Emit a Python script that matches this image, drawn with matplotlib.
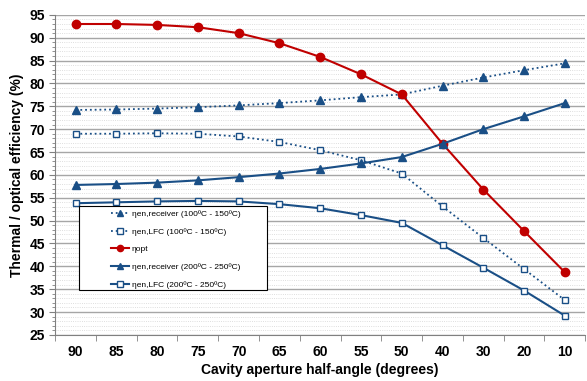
import matplotlib.pyplot as plt
import numpy as np
from matplotlib.ticker import MultipleLocator, FixedLocator
from matplotlib.patches import Rectangle

plt.rcParams['font.family'] = ['Liberation Sans', 'DejaVu Sans']

# cavity aperture half-angle categories
angles = ['90', '85', '80', '75', '70', '65', '60', '55', '50', '40', '30', '20', '10']

# efficiencies (%)
eta_opt = [93.0, 93.0, 92.8, 92.3, 91.0, 88.8, 85.8, 82.0, 77.6, 66.8, 56.8, 47.7, 38.7]
eta_rec_low = [74.2, 74.3, 74.5, 74.8, 75.2, 75.7, 76.3, 77.0, 77.6, 79.5, 81.3, 82.9, 84.4]
eta_lfc_low = [69.0, 69.0, 69.1, 69.0, 68.4, 67.2, 65.4, 63.2, 60.3, 53.1, 46.2, 39.4, 32.6]
eta_rec_high = [57.8, 58.0, 58.3, 58.8, 59.5, 60.3, 61.3, 62.5, 63.9, 66.8, 70.0, 72.8, 75.7]
eta_lfc_high = [53.8, 54.0, 54.2, 54.3, 54.2, 53.6, 52.7, 51.2, 49.5, 44.6, 39.7, 34.7, 29.2]

blue = '#1a4f86'
red = '#c00000'

fig = plt.figure(figsize=(5.87, 3.81), dpi=100)
ax = fig.add_axes([0.094, 0.121, 0.903, 0.840])

x = np.arange(len(angles))

ax.plot(x, eta_rec_low, color=blue, ls=':', lw=1.3, marker='^', ms=6,
        label='ηen,receiver (100ºC - 150ºC)')
ax.plot(x, eta_lfc_low, color=blue, ls=':', lw=1.3, marker='s', ms=5,
        mfc='white', mec=blue, mew=1.0, label='ηen,LFC (100ºC - 150ºC)')
ax.plot(x, eta_opt, color=red, ls='-', lw=1.5, marker='o', ms=6,
        label='ηopt')
ax.plot(x, eta_rec_high, color=blue, ls='-', lw=1.5, marker='^', ms=6,
        label='ηen,receiver (200ºC - 250ºC)')
ax.plot(x, eta_lfc_high, color=blue, ls='-', lw=1.5, marker='s', ms=5,
        mfc='white', mec=blue, mew=1.0, label='ηen,LFC (200ºC - 250ºC)')

ax.set_xlim(-0.5, len(angles) - 0.5)
ax.set_ylim(25, 95)
ax.set_xticks(x)
ax.set_xticklabels(angles)
ax.xaxis.set_minor_locator(FixedLocator(np.arange(-0.5, len(angles), 1.0)))
ax.tick_params(axis='x', which='major', length=0, pad=7, labelsize=10)
ax.tick_params(axis='x', which='minor', length=4, color='#808080')
ax.yaxis.set_major_locator(MultipleLocator(5))
ax.yaxis.set_minor_locator(MultipleLocator(1))
ax.tick_params(axis='y', which='major', length=4, color='#808080', labelsize=10)
ax.tick_params(axis='y', which='minor', length=2, color='#808080')
for lab in ax.get_xticklabels() + ax.get_yticklabels():
    lab.set_fontweight('bold')

ax.grid(axis='y', which='major', color='#a6a6a6', lw=1.0)
ax.grid(axis='y', which='minor', color='#d4d4d4', lw=0.6, ls=':')
ax.set_axisbelow(True)

for s in ['top', 'right']:
    ax.spines[s].set_visible(False)
for s in ['left', 'bottom']:
    ax.spines[s].set_color('#808080')

ax.set_xlabel('Cavity aperture half-angle (degrees)', fontweight='bold', fontsize=10,
              labelpad=3)
ax.set_ylabel('Thermal / optical efficiency (%)', fontweight='bold', fontsize=10)

# legend box (drawn separately, wider than the entries like the original)
box = Rectangle((0.045, 0.141), 0.355, 0.263, transform=ax.transAxes,
                facecolor='white', edgecolor='black', lw=0.8, zorder=5)
ax.add_patch(box)
leg = ax.legend(loc='upper left', bbox_to_anchor=(0.105, 0.389), borderaxespad=0,
                fontsize=6, frameon=False, handlelength=2.2, handletextpad=0.3,
                labelspacing=1.17, borderpad=0, markerscale=0.75)
leg.set_zorder(6)

fig.savefig('out.png', dpi=100)
